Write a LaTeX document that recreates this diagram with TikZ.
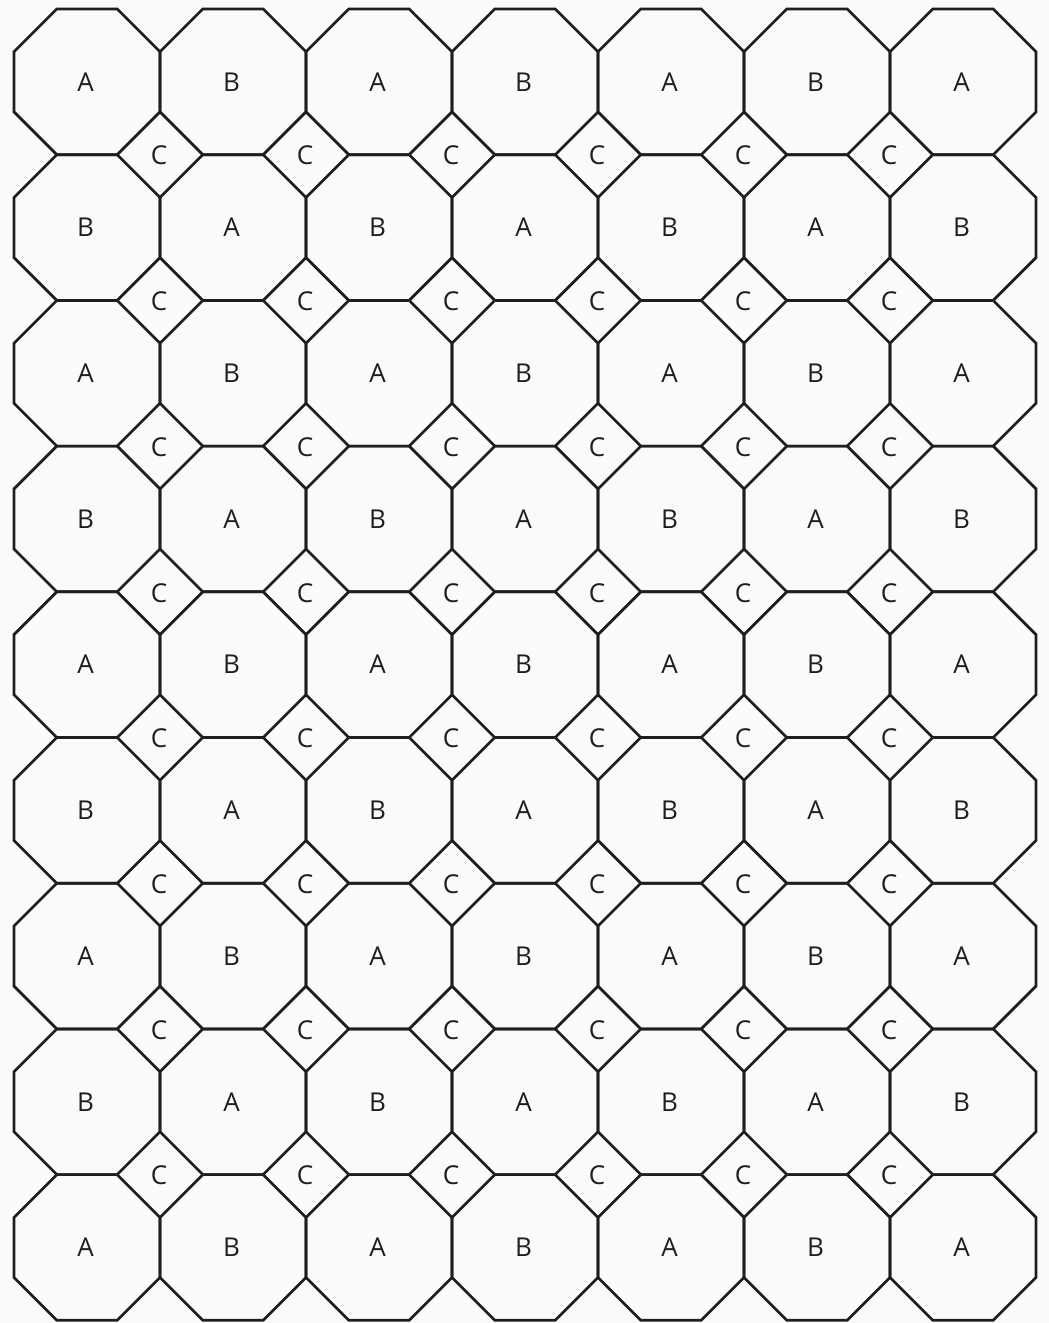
\documentclass[tikz,border=0pt]{standalone}
\usepackage{fontspec}
\setmainfont{Open Sans}
\definecolor{bgc}{RGB}{250,250,250}
\definecolor{ink}{RGB}{30,30,30}
\begin{document}
\begin{tikzpicture}[x=1pt,y=-1pt,
  tile/.style={draw=ink, line width=2.7pt, line join=miter},
  lbl/.style={font=\fontsize{26}{26}\selectfont, text=ink, inner sep=0pt}]
\fill[bgc] (0,0) rectangle (1049,1323);
\useasboundingbox (0,0) rectangle (1049,1323);
\foreach \i in {0,...,6} {
  \foreach \j in {0,...,8} {
    \pgfmathsetmacro\L{14+146*\i}
    \pgfmathsetmacro\R{\L+146}
    \pgfmathsetmacro\T{9+145.7*\j}
    \pgfmathsetmacro\B{\T+145.7}
    \pgfmathtruncatemacro\pp{mod(\i+\j,2)}
    \draw[tile] (\L+42.8,\T) -- (\R-42.8,\T) -- (\R,\T+42.8) -- (\R,\B-42.8)
      -- (\R-42.8,\B) -- (\L+42.8,\B) -- (\L,\B-42.8) -- (\L,\T+42.8) -- cycle;
    \node[lbl] (o-\i-\j) at ({(\L+\R)/2-1.5},{(\T+\B)/2}) {\ifnum\pp=0 A\else B\fi};
  }
}
\foreach \i in {1,...,6} {
  \foreach \j in {1,...,8} {
    \node[lbl] (c-\i-\j) at ({14+146*\i-1},{9+145.7*\j+1}) {C};
  }
}
\end{tikzpicture}
\end{document}
